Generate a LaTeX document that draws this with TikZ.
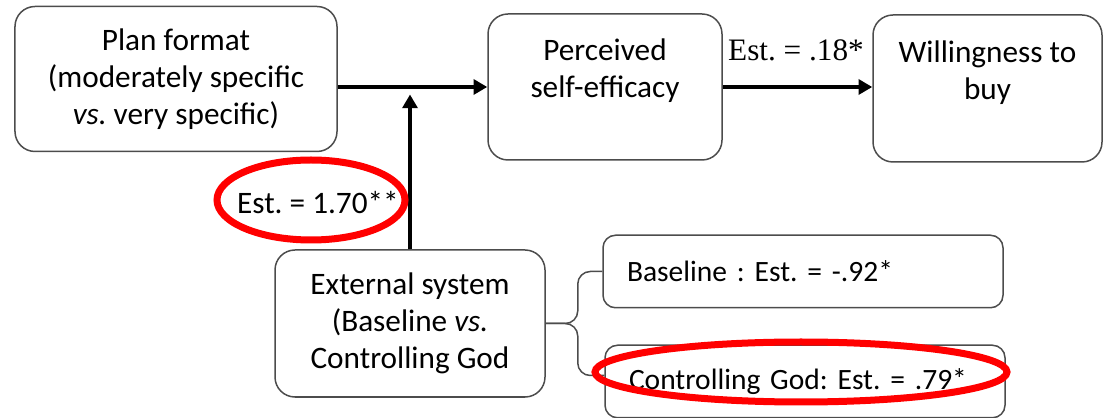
\documentclass[tikz,border=0pt]{standalone}
\usepackage{fontspec}
\setmainfont{Carlito}
\newfontfamily\estfont{Liberation Serif}
\usetikzlibrary{arrows.meta, positioning}
\frenchspacing

\begin{document}
\begin{tikzpicture}[
        x=0.4pt, y=-0.4pt, >={Triangle[length=5.5pt,width=6pt]},
        every node/.style={font=\fontsize{12.5}{14.8}\selectfont},
        block/.style={draw=black!70, line width=0.6pt, rounded corners=8pt, align=center, inner sep=0pt},
        result/.style={block, rounded corners=5pt, align=left, inner xsep=9.6pt, text width=140.8pt, minimum height=29pt, font=\fontsize{11.8}{14}\selectfont},
        link/.style={->, line width=1.6pt},
        fork/.style={draw=black!70, line width=0.6pt, rounded corners=5pt},
        ring/.style={draw=red, line width=2.8pt},
        ]
        \useasboundingbox (0,0) rectangle (1112,418);

        % boxes
        \node[block, minimum width=128.8pt, minimum height=58pt]   (plan) at (176,79)    {Plan format\\(moderately specific\\\textit{vs.} very specific)};
        \node[block, minimum width=93.6pt, minimum height=58.4pt]  (perc) at (605,87)    {Perceived\\self-efficacy\\~};
        \node[block, minimum width=91.6pt, minimum height=58.8pt]  (will) at (987.5,88.5) {Willingness to\\buy\\~};
        \node[block, minimum width=108pt, minimum height=58.8pt]   (ext)  at (410,323.5) {External system\\(Baseline \textit{vs.}\\Controlling God};
        \node[result] (base) at (803,271.5) {Baseline : Est. = -.92*};
        \node[result] (ctl)  at (805,381.5) {Controlling God: Est. = .79*};

        % estimates
        \node (est1) at (318,203) {Est. = 1.70**};
        \node[font=\fontsize{12.5}{14}\estfont] (est2) at (796,50) {Est. = .18*};

        % paths
        \coordinate (join) at (ext.north |- perc.west);
        \coordinate (fk) at ([xshift=12.8pt]ext.east);
        \coordinate (ctlin) at ([yshift=2.4pt]ctl.west);

        \draw[link] (plan.east |- perc.west) -- (perc.west);
        \draw[link, shorten >=3pt] (ext.north) -- (join);
        \draw[link] (perc.east) -- (perc.east -| will.west);

        \draw[fork] (ext.east) -- (fk) |- (base.west);
        \draw[fork] (ext.east) -- (fk) |- (ctlin);

        % highlights
        \draw[ring] (311,200) ellipse [x radius=94, y radius=40];
        \draw[ring] (801,372) ellipse [x radius=206, y radius=30];
\end{tikzpicture}
\end{document}
